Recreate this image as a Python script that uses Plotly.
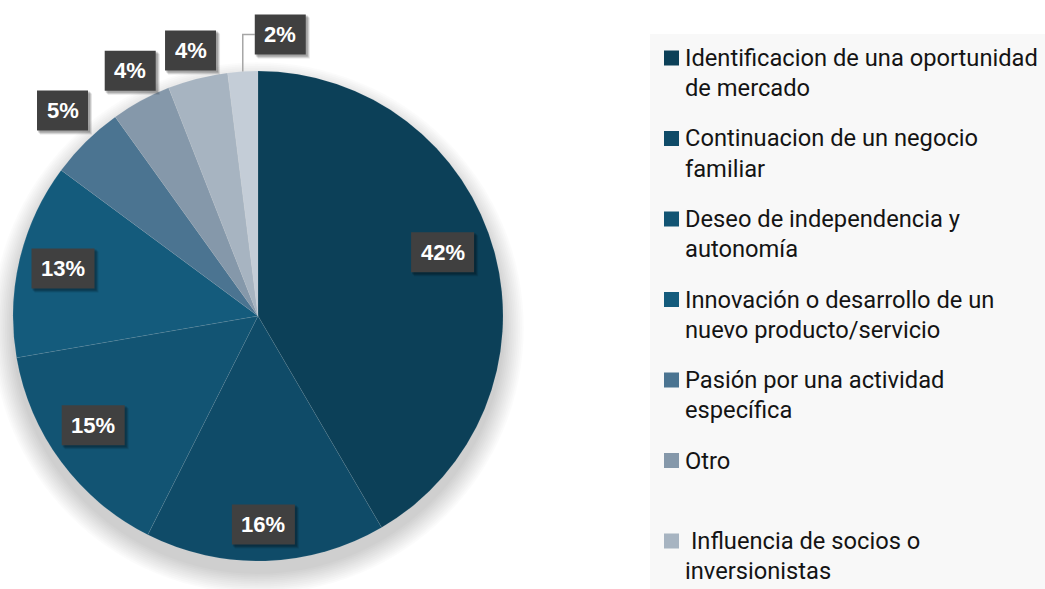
import math
import plotly.graph_objects as go

# ---- data ----
labels = [
    "Identificacion de una oportunidad de mercado",
    "Continuacion de un negocio familiar",
    "Deseo de independencia y autonomía",
    "Innovación o desarrollo de un nuevo producto/servicio",
    "Pasión por una actividad específica",
    "Otro",
    " Influencia de socios o inversionistas",
    " ",
]
values = [42, 16, 15, 13, 5, 4, 4, 2]
pct_text = ["42%", "16%", "15%", "13%", "5%", "4%", "4%", "2%"]
legend_lines = [
    ["Identificacion de una oportunidad", "de mercado"],
    ["Continuacion de un negocio", "familiar"],
    ["Deseo de independencia y", "autonomía"],
    ["Innovación o desarrollo de un", "nuevo producto/servicio"],
    ["Pasión por una actividad", "específica"],
    ["Otro", ""],
    [" Influencia de socios o", "inversionistas"],
]
colors = ["#0c4058", "#0f4b68", "#125473", "#145b7c", "#4b7491", "#8598aa", "#a7b4c1", "#c4cdd7"]

W, H = 1045, 589
# pie geometry (pixels)
CX, CY, R = 258, 316, 245


def px(x):
    return x / W


def py(y):
    return 1 - y / H


fig = go.Figure()
fig.add_trace(go.Pie(
    labels=labels,
    values=values,
    sort=False,
    direction="clockwise",
    rotation=0,
    marker=dict(colors=colors, line=dict(color="rgba(255,255,255,0.15)", width=0.5)),
    textinfo="none",
    hoverinfo="label+percent",
    showlegend=False,
    domain=dict(x=[px(CX - R), px(CX + R)], y=[py(CY + R), py(CY - R)]),
))

shapes = []
# soft drop shadow under the pie
for i in range(12):
    rr = R + 1 + i * 1.8
    shapes.append(dict(
        type="circle", xref="paper", yref="paper", layer="below",
        x0=px(CX - rr), x1=px(CX + rr), y0=py(CY + 12 + rr), y1=py(CY + 12 - rr),
        fillcolor="rgba(0,0,0,0.014)", line=dict(width=0),
    ))

# legend background
shapes.append(dict(type="rect", xref="paper", yref="paper", layer="below",
                   x0=px(650), x1=1, y0=0, y1=py(34),
                   fillcolor="#f8f8f8", line=dict(width=0)))

annotations = []
total = sum(values)
cum = 0
# (radius factor, angle tweak in degrees) for each data label; None -> leader line label
label_pos = [(0.797, -3.9), (0.851, 0.3), (0.807, 3.0), (0.819, 0.3),
             (1.158, 1.0), (1.129, 1.0), (1.118, 0.0), None]
for i, v in enumerate(values):
    mid = (cum + v / 2) / total * 2 * math.pi
    cum += v
    if label_pos[i] is None:
        ex = CX + R * math.sin(mid)
        ey = CY - R * math.cos(mid)
        bx, by = ex + 37.5, 34.5
        shapes.append(dict(type="path", xref="paper", yref="paper",
                           path=f"M {px(ex)} {py(ey)} L {px(ex)} {py(by)} L {px(ex + 12)} {py(by)}",
                           line=dict(color="#a6a6a6", width=1.5)))
    else:
        f, tw = label_pos[i]
        a = mid + math.radians(tw)
        bx = CX + f * R * math.sin(a)
        by = CY - f * R * math.cos(a)
    bw = 12 * len(pct_text[i]) + 27
    bh = 40
    # soft shadow boxes
    for k, (off, op) in enumerate([(4, 0.10), (3, 0.14), (2, 0.16)]):
        shapes.append(dict(type="rect", xref="paper", yref="paper",
                           x0=px(bx - bw / 2 + off - 1), x1=px(bx + bw / 2 + off),
                           y0=py(by + bh / 2 + off), y1=py(by - bh / 2 + off - 1),
                           fillcolor=f"rgba(0,0,0,{op})", line=dict(width=0)))
    shapes.append(dict(type="rect", xref="paper", yref="paper",
                       x0=px(bx - bw / 2), x1=px(bx + bw / 2),
                       y0=py(by + bh / 2), y1=py(by - bh / 2),
                       fillcolor="#404040", line=dict(width=0)))
    annotations.append(dict(
        x=px(bx), y=py(by), xref="paper", yref="paper", showarrow=False,
        xanchor="center", yanchor="middle",
        text="<b>" + pct_text[i] + "</b>",
        font=dict(family="Liberation Sans, Arial", size=22, color="white"),
    ))

# custom legend
for i, lines in enumerate(legend_lines):
    yc = 58 + 80.5 * i
    shapes.append(dict(type="rect", xref="paper", yref="paper",
                       x0=px(664), x1=px(679), y0=py(yc + 7.5), y1=py(yc - 7.5),
                       fillcolor=colors[i], line=dict(width=0)))
    for j, t in enumerate(lines):
        if not t:
            continue
        annotations.append(dict(
            x=px(683), y=py(yc + 30 * j), xref="paper", yref="paper",
            xanchor="left", yanchor="middle", showarrow=False,
            text=t, font=dict(family="Roboto", size=23.7, color="#141414"),
        ))

fig.update_layout(
    width=W, height=H,
    margin=dict(l=0, r=0, t=0, b=0),
    paper_bgcolor="white", plot_bgcolor="white",
    shapes=shapes, annotations=annotations,
)
fig.write_html("out.html", config={"displayModeBar": False},
               post_script="document.body.style.margin='0';document.body.style.overflow='hidden';")
